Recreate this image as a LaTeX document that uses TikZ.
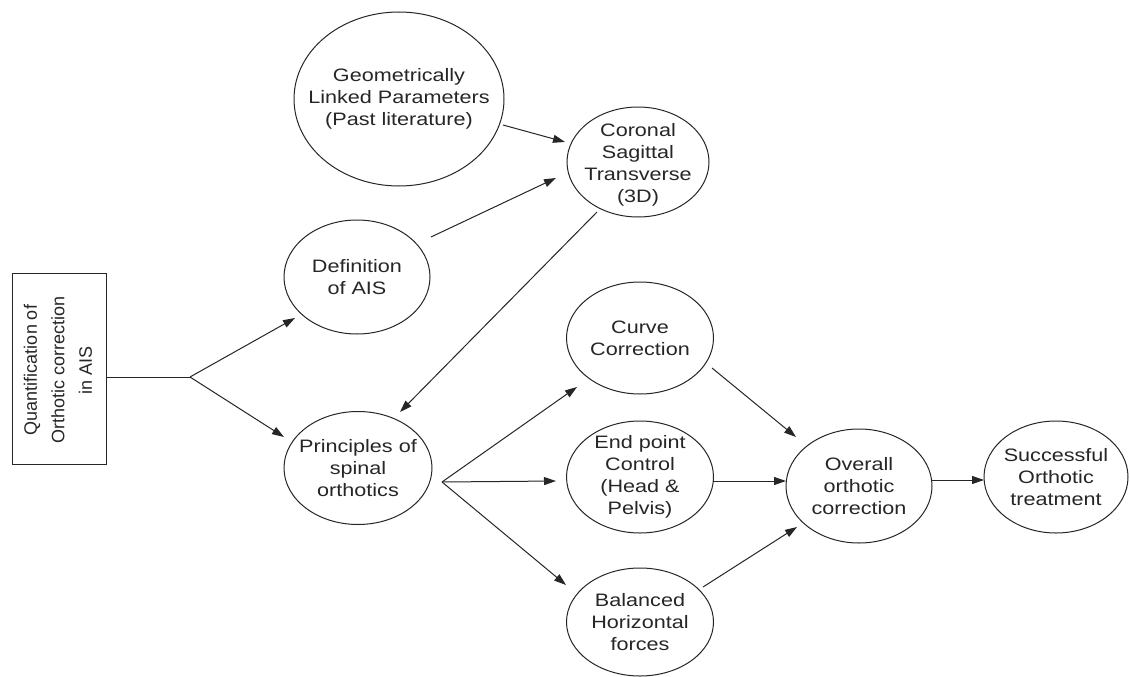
\documentclass[tikz,border=0pt]{standalone}
\usepackage{fontspec}
\setmainfont{Liberation Sans}[FakeStretch=1.2]
\newfontfamily\plainsans{Liberation Sans}
\usetikzlibrary{shapes.geometric,arrows.meta}
\begin{document}
\begin{tikzpicture}[x=1pt,y=-1pt,
  el/.style={draw=black!85, ellipse, line width=1pt, inner sep=0pt},
  lbl/.style={align=center, inner sep=0pt, text=black!85, font=\fontsize{18}{22}\selectfont},
  arr/.style={-{Triangle[length=12pt,width=8pt]}, line width=1pt, draw=black!85},
  ln/.style={line width=1pt, draw=black!85}]
\useasboundingbox (0,0) rectangle (1130,677);
\fill[white] (0,0) rectangle (1130,677);

% nodes
\node[draw=black!85, line width=1pt, minimum width=94pt, minimum height=191pt, inner sep=0pt] (rect) at (59,368.5) {};
\node[rotate=90, align=center, text=black!85, font=\plainsans\fontsize{18}{27.5}\selectfont] (rectT) at (58,370) {Quantification of\\Orthotic correction\\in AIS};

\node[el, minimum width=210pt, minimum height=174pt, label={[lbl]center:{Geometrically\\Linked Parameters\\(Past literature)}}] (geom) at (399,99) {};
\node[el, minimum width=142pt, minimum height=110pt, label={[lbl, yshift=-3pt]center:{Coronal\\Sagittal\\Transverse\\(3D)}}] (cor) at (638,162) {};
\node[el, minimum width=146pt, minimum height=114pt, label={[lbl]center:{Definition\\of AIS}}] (def) at (357,277) {};
\node[el, minimum width=148pt, minimum height=113pt, label={[lbl]center:{Principles of\\spinal\\orthotics}}] (princ) at (358,468) {};
\node[el, minimum width=147pt, minimum height=112pt, label={[lbl]center:{Curve\\Correction}}] (curve) at (640,338) {};
\node[el, minimum width=147pt, minimum height=112pt, label={[lbl]center:{End point\\Control\\(Head \&\\Pelvis)}}] (endp) at (640,477) {};
\node[el, minimum width=147pt, minimum height=108pt, label={[lbl]center:{Balanced\\Horizontal\\forces}}] (bal) at (640,622) {};
\node[el, minimum width=146pt, minimum height=114pt, label={[lbl]center:{Overall\\orthotic\\correction}}] (over) at (859,486) {};
\node[el, minimum width=144pt, minimum height=112pt, label={[lbl]center:{Successful\\Orthotic\\treatment}}] (succ) at (1056,477) {};

\coordinate (j1) at (190,377);
\coordinate (j2) at (442,482);

% connectors
\draw[ln] ([shift={(47,8.5)}]rect.center) -- (j1);
\draw[arr] (j1) -- ([shift={(-62,41)}]def.center);
\draw[arr] (j1) -- ([shift={(-74,-31)}]princ.center);
\draw[arr] ([shift={(104,26)}]geom.center) -- ([shift={(-73,-20)}]cor.center);
\draw[arr] ([shift={(74,-40)}]def.center) -- ([shift={(-82,16)}]cor.center);
\draw[arr] ([shift={(-41,50)}]cor.center) -- ([shift={(42,-56)}]princ.center);
\draw[arr] (j2) -- ([shift={(-63,49)}]curve.center);
\draw[arr] (j2) -- ([shift={(-84,4)}]endp.center);
\draw[arr] (j2) -- ([shift={(-74,-37)}]bal.center);
\draw[arr] ([shift={(72,30)}]curve.center) -- ([shift={(-63,-49)}]over.center);
\draw[arr] ([shift={(73,4)}]endp.center) -- ([shift={(-73,-5)}]over.center);
\draw[arr] ([shift={(63,-35)}]bal.center) -- ([shift={(-62,41)}]over.center);
\draw[arr] ([shift={(73,-6)}]over.center) -- ([shift={(-72,3)}]succ.center);
\end{tikzpicture}
\end{document}
